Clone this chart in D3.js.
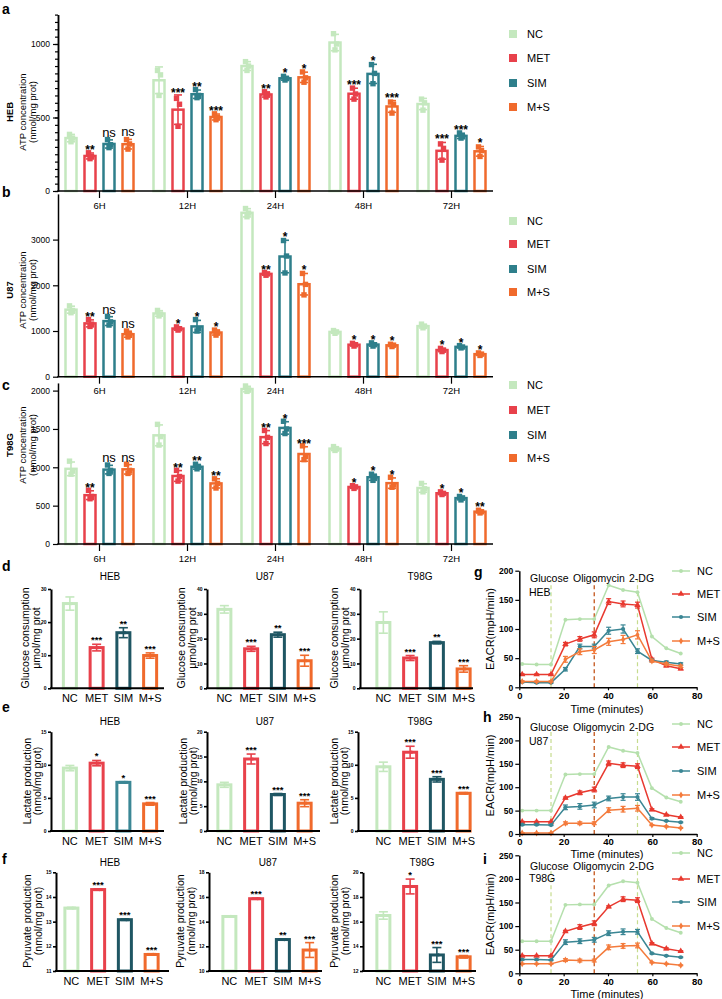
<!DOCTYPE html>
<html><head><meta charset="utf-8">
<script src="https://cdn.jsdelivr.net/npm/d3@7"></script>
<style>body{margin:0;background:#fff}svg{display:block}</style>
</head><body><svg id="c" width="722" height="999"></svg>
<script>
// ---------------- DATA ----------------
const groups = ["6H","12H","24H","48H","72H"];
const series = ["NC","MET","SIM","M+S"];
const cells = ["HEB","U87","T98G"];

// ATP concentration, replicate points [group][series][replicate]
const atpHEB = [
 [[385,360,335],[260,235,220],[350,315,295],[350,320,285]],
 [[820,790,650],[630,590,440],[690,650,635],[525,500,485]],
 [[880,850,820],[675,655,640],[780,765,755],[810,770,740]],
 [[1070,1000,960],[700,660,625],[860,800,730],[605,590,530]],
 [[625,600,550],[320,290,210],[395,370,360],[300,275,235]]
];
const sigHEB = [["","**","ns","ns"],["","***","**","***"],["","**","*","*"],["","***","*","***"],["","***","***","*"]];
const atpU87 = [
 [[1550,1450,1400],[1250,1150,1100],[1320,1200,1130],[1000,920,870]],
 [[1450,1370,1330],[1090,1050,1020],[1250,1050,1000],[1020,970,910]],
 [[3680,3580,3500],[2280,2250,2220],[2980,2640,2270],[2260,2020,1790]],
 [[1010,980,950],[730,700,670],[740,700,670],[710,690,660]],
 [[1150,1100,1070],[620,580,550],[680,650,630],[520,495,465]]
];
const sigU87 = [["","**","ns","ns"],["","*","*","*"],["","**","*","*"],["","*","*","*"],["","*","*","*"]];
const atpT98G = [
 [[1080,950,910],[700,620,590],[1030,960,920],[1040,960,920]],
 [[1560,1400,1290],[960,880,820],[1040,1000,980],[850,790,730]],
 [[2060,2010,1990],[1480,1390,1310],[1600,1500,1440],[1280,1140,1100]],
 [[1270,1240,1220],[760,745,725],[910,870,830],[870,770,740]],
 [[790,720,680],[680,660,645],[620,600,575],[440,420,405]]
];
const sigT98G = [["","**","ns","ns"],["","**","**","**"],["","**","*","***"],["","*","*","*"],["","*","*","**"]];
const atpTicksA = [0,500,1000];
const atpTicksB = [0,1000,2000,3000];
const atpTicksC = [0,500,1000,1500,2000];

// Glucose / lactate / pyruvate [cell][series]
const glucoseMean = [[25.6,12.3,16.8,9.9],[31.8,15.9,21.6,11.1],[26.5,12.2,18.4,7.8]];
const glucoseErr  = [[2,1,1.5,0.8],[1.5,1,1,2.2],[4.3,1,0.5,1.3]];
const glucoseSig  = [["","***","**","***"],["","***","**","***"],["","***","**","***"]];
const glucoseTicks = [[0,10,20,30],[0,10,20,30,40],[0,10,20,30,40]];
const lactateMean = [[9.5,10.25,7.35,4.1],[9.3,14.5,7.35,5.6],[9.7,11.9,7.8,5.7]];
const lactateErr  = [[0.4,0.4,0.1,0.2],[0.5,1,0.2,0.7],[0.7,0.9,0.4,0.1]];
const lactateSig  = [["","*","*","***"],["","***","***","***"],["","***","***","***"]];
const lactateTicks = [[0,5,10,15],[0,5,10,15,20],[0,5,10,15]];
const pyruvateMean = [[13.55,14.3,13.08,11.67],[14.42,15.86,12.55,11.7],[16.5,18.85,13.3,13.15]];
const pyruvateErr  = [[0.03,0.03,0.03,0.03],[0.03,0.05,0.05,0.6],[0.3,0.6,0.6,0.1]];
const pyruvateSig  = [["","***","***","***"],["","***","**","***"],["","*","***","***"]];
const pyruvateTicks = [[11,12,13,14,15],[10,12,14,16,18],[12,14,16,18,20]];

// ECAR time course [series][timepoint]
const times = [1.3,7.8,14.3,20.8,27.3,33.8,40.3,46.8,53.3,59.8,66.3,72.8];
const injections = [14.3,33.8,53.3];
const injectionNames = ["Glucose","Oligomycin","2-DG"];
const timeTicks = [0,20,40,60,80];
const ecarTicksG = [0,50,100,150,200];
const ecarTicksHI = [0,50,100,150,200,250];
const ecarHEB = [
 [40,39,39,116,117,117,175,167,163,87,67,58],
 [22,22,22,74,83,90,147,143,141,48,37,32],
 [9,8,8,31,70,70,97,100,62,46,43,40],
 [10,10,10,48,61,64,78,82,90,45,40,36]];
const ecarHEBErr = [
 [0,0,0,0,0,0,0,0,0,0,0,0],
 [1,1,1,3,4,5,5,5,5,2,2,2],
 [1,1,1,3,4,4,6,7,4,2,2,2],
 [1,1,1,5,5,6,6,7,7,2,2,2]];
const ecarU87 = [
 [50,50,50,127,128,128,186,178,173,98,78,69],
 [26,26,26,77,88,95,151,147,145,52,41,36],
 [20,20,19,57,59,62,76,79,79,33,28,25],
 [2,2,2,23,23,23,51,53,55,19,16,13]];
const ecarU87Err = [
 [0,0,0,0,0,0,0,0,0,0,0,0],
 [1,1,1,2,4,5,5,5,5,2,1,1],
 [1,1,1,5,6,6,5,7,7,2,1,1],
 [1,1,1,3,3,3,5,6,6,1,1,1]];
const ecarT98G = [
 [68,68,68,145,146,146,186,195,192,115,96,86],
 [37,37,37,89,98,106,141,157,155,63,52,47],
 [29,29,28,66,68,71,85,88,88,42,37,34],
 [20,20,20,28,27,27,55,58,59,23,20,17]];
const ecarT98GErr = [
 [0,0,0,0,0,0,0,0,0,0,0,0],
 [1,1,1,2,5,5,2,5,5,2,2,1],
 [1,1,1,5,5,5,5,6,5,1,1,1],
 [1,1,1,3,3,3,5,5,5,1,1,1]];

// ---------------- STYLE ----------------
const FONT = '"Liberation Sans", Arial, sans-serif';
const C_NC = "#c4e8be", C_MET = "#e8414b", C_SIM = "#2e7f8b", C_MS = "#f06a2c", C_SIMD = "#1f5663";
const atpColors = [C_NC, C_MET, C_SIM, C_MS];
const lineColors = ["#b5e0ad", "#e8392f", "#3a8694", "#f47b3c"];

const svg = d3.select("#c").attr("font-family", FONT);
svg.append("rect").attr("width",722).attr("height",999).attr("fill","#fff");

function txt(t, x, y, o = {}) {
  const e = svg.append("text").attr("x", x).attr("y", y).text(t)
    .attr("font-size", o.fs || 10).attr("font-family", FONT)
    .attr("font-weight", o.bold ? "bold" : "normal")
    .attr("text-anchor", o.anchor || "start").attr("fill", o.fill || "#000");
  if (o.rot) e.attr("transform", `rotate(-90,${x},${y})`);
  return e;
}
function styleAxis(sel, sw, fs, bold) {
  sel.attr("font-family", FONT);
  sel.select(".domain").attr("stroke", "#000").attr("stroke-width", sw);
  sel.selectAll(".tick line").attr("stroke", "#000").attr("stroke-width", sw * 0.8);
  sel.selectAll(".tick text").attr("font-size", fs).attr("font-family", FONT)
     .attr("font-weight", bold ? "bold" : "normal").attr("fill", "#000");
}

// panel letters
[["a",2,14,],["b",2,197],["c",2,390],["d",2,571],["e",2,712],["f",2,864],["g",474,577],["h",483,722],["i",483,864]]
  .forEach(([l,x,y]) => txt(l, x, y, {fs: 14, bold: true}));

// ---------------- ATP PANELS (a,b,c) ----------------
function atpPanel(o) {
  const g = svg.append("g");
  const y = d3.scaleLinear().domain([0, o.max]).range([o.y0, o.y0 - o.max * o.k]);
  const xg = d3.scaleBand().domain(groups).range([55.5, 495.5]);
  const xs = d3.scaleBand().domain(series).range([6, 82]);
  const cx = (gi, si) => xg(groups[gi]) + xs(series[si]) + xs.bandwidth() / 2;
  const jit = [-1.5, 1.5, 0];
  o.data.forEach((grp, gi) => grp.forEach((pts, si) => {
    const c = cx(gi, si), m = d3.mean(pts), sd = d3.deviation(pts), col = atpColors[si];
    g.append("rect").attr("x", c - 5.5).attr("y", y(m)).attr("width", 11).attr("height", o.y0 - y(m))
      .attr("fill", "#fff").attr("stroke", col).attr("stroke-width", 2.5);
    g.append("line").attr("x1", c).attr("x2", c).attr("y1", y(m - sd)).attr("y2", y(m + sd))
      .attr("stroke", col).attr("stroke-width", 1.6);
    [m - sd, m + sd].forEach(v => g.append("line").attr("x1", c - 4).attr("x2", c + 4)
      .attr("y1", y(v)).attr("y2", y(v)).attr("stroke", col).attr("stroke-width", 1.6));
    pts.forEach((v, k) => g.append("rect").attr("x", c + jit[k] - 2.7).attr("y", y(v) - 2.7)
      .attr("width", 5.4).attr("height", 5.4).attr("fill", col));
    const s = o.sig[gi][si];
    const top = Math.max(y(m + sd), y(d3.max(pts)) - 2.5);
    if (s === "ns") txt(s, c, top - 3, {fs: 13, anchor: "middle"});
    else if (s) txt(s, c, top + 1, {fs: 12, bold: true, anchor: "middle"});
  }));
  if (o.minor) {
    const mi = g.append("g").attr("transform", "translate(58,0)")
      .call(d3.axisLeft(y).tickValues(d3.range(0, o.max + 0.1, o.minor)).tickSize(3).tickSizeOuter(0).tickFormat(""));
    styleAxis(mi, 1.5, 8, false);
  }
  const ya = g.append("g").attr("transform", "translate(58,0)")
    .call(d3.axisLeft(y).tickValues(o.ticks).tickSize(5).tickSizeOuter(0).tickFormat(d3.format("d")));
  styleAxis(ya, 1.5, 8.5, false);
  const xa = g.append("g").attr("transform", `translate(0,${o.y0})`)
    .call(d3.axisBottom(xg).tickSize(7).tickSizeOuter(0).tickPadding(4));
  styleAxis(xa, 1.5, 9.5, false);
  xa.select(".domain").remove();
  g.append("line").attr("x1", 57.25).attr("x2", 493).attr("y1", o.y0).attr("y2", o.y0)
    .attr("stroke", "#000").attr("stroke-width", 1.6);
  // titles
  txt(o.name, 13, o.labelY, {fs: 9.5, bold: true, anchor: "middle", rot: true});
  txt("ATP concentration", 25.5, o.labelY, {fs: 9.5, anchor: "middle", rot: true});
  txt("(nmol/mg prot)", 36, o.labelY, {fs: 9.5, anchor: "middle", rot: true});
  // legend
  series.forEach((s, si) => {
    g.append("rect").attr("x", 509).attr("y", o.legendY[si] - 4).attr("width", 8).attr("height", 8).attr("fill", atpColors[si]);
    txt(s, 527, o.legendY[si] + 4, {fs: 11});
  });
}
atpPanel({data: atpHEB, sig: sigHEB, name: "HEB", y0: 191, k: 0.147, max: 1200, ticks: atpTicksA, minor: 50,
  legendY: [34, 58, 83, 107], labelY: 112});
atpPanel({data: atpU87, sig: sigU87, name: "U87", y0: 376.7, k: 0.0457, max: 4000, ticks: atpTicksB, minor: 0,
  legendY: [221, 244, 269, 292], labelY: 290});
atpPanel({data: atpT98G, sig: sigT98G, name: "T98G", y0: 544, k: 0.0767, max: 2100, ticks: atpTicksC, minor: 0,
  legendY: [385, 410, 435, 458], labelY: 445});

// ---------------- SMALL BAR ROWS (d,e,f) ----------------
function smallRow(o) {
  cells.forEach((cell, ci) => {
    const ax = o.axisX[ci];
    const dom = [o.ticks[ci][0], o.ticks[ci][o.ticks[ci].length - 1]];
    const y = d3.scaleLinear().domain(dom).range([o.y0, o.yTop]);
    const xb = d3.scaleBand().domain(series).range([o.barStart[ci], o.barStart[ci] + 107]);
    const g = svg.append("g");
    o.means[ci].forEach((m, si) => {
      const c = xb(series[si]) + xb.bandwidth() / 2, e = o.errs[ci][si], col = o.colors[ci][si];
      g.append("rect").attr("x", c - 6.5).attr("y", y(m)).attr("width", 13).attr("height", o.y0 - y(m))
        .attr("fill", "#fff").attr("stroke", col).attr("stroke-width", 3);
      g.append("line").attr("x1", c).attr("x2", c).attr("y1", y(m - e)).attr("y2", y(m + e))
        .attr("stroke", col).attr("stroke-width", 1.6);
      [m - e, m + e].forEach(v => g.append("line").attr("x1", c - 4.5).attr("x2", c + 4.5)
        .attr("y1", y(v)).attr("y2", y(v)).attr("stroke", col).attr("stroke-width", 1.6));
      g.append("circle").attr("cx", c + 1.5).attr("cy", y(m)).attr("r", 1.6).attr("fill", col);
      const s = o.sig[ci][si];
      if (s) txt(s, c, y(m + e) - 1, {fs: 9.5, bold: true, anchor: "middle"});
      txt(series[si], c, o.y0 + 14, {fs: 11, anchor: "middle"});
    });
    const ya = g.append("g").attr("transform", `translate(${ax},0)`)
      .call(d3.axisLeft(y).tickValues(o.ticks[ci]).tickSize(3).tickSizeOuter(0).tickPadding(1.5).tickFormat(d3.format("d")));
    styleAxis(ya, 2, 5, true);
    g.append("line").attr("x1", ax - 1).attr("x2", ax + 113).attr("y1", o.y0).attr("y2", o.y0)
      .attr("stroke", "#000").attr("stroke-width", 2);
    txt(o.title1, ax + o.lab1, o.labelY, {fs: 10.5, anchor: "middle", rot: true});
    txt(o.title2, ax + o.lab2, o.labelY, {fs: 10.5, anchor: "middle", rot: true});
    txt(cell, o.titleX[ci], o.titleY, {fs: 10, anchor: "middle"});
  });
}
smallRow({means: glucoseMean, errs: glucoseErr, sig: glucoseSig, ticks: glucoseTicks,
  colors: [[C_NC, C_MET, C_SIMD, C_MS], [C_NC, C_MET, C_SIMD, C_MS], [C_NC, C_MET, C_SIMD, C_MS]],
  axisX: [51, 207, 360], barStart: [56.5, 211, 370], y0: 688.3, yTop: 589,
  title1: "Glucose consumption", title2: "μmol/mg prot", lab1: -22, lab2: -11, labelY: 638,
  titleX: [110, 265, 420], titleY: 580});
smallRow({means: lactateMean, errs: lactateErr, sig: lactateSig, ticks: lactateTicks,
  colors: [[C_NC, C_MET, "#3b8795", C_MS], [C_NC, C_MET, C_SIMD, C_MS], [C_NC, C_MET, C_SIMD, C_MS]],
  axisX: [51, 207, 358], barStart: [56.5, 211, 370], y0: 831, yTop: 731.7,
  title1: "Lactate production", title2: "(nmol/mg prot)", lab1: -20.5, lab2: -10, labelY: 781,
  titleX: [110, 265, 420], titleY: 725});
smallRow({means: pyruvateMean, errs: pyruvateErr, sig: pyruvateSig, ticks: pyruvateTicks,
  colors: [[C_NC, C_MET, C_SIMD, C_MS], [C_NC, C_MET, C_SIMD, C_MS], [C_NC, C_MET, C_SIMD, C_MS]],
  axisX: [56, 209, 363], barStart: [58, 216, 370], y0: 971, yTop: 872.3,
  title1: "Pyruvate production", title2: "(nmol/mg prot)", lab1: -25.5, lab2: -14, labelY: 921,
  titleX: [110, 268, 422], titleY: 866});

// ---------------- ECAR PANELS (g,h,i) ----------------
const symbols = [d3.symbolCircle, d3.symbolTriangle, d3.symbolCircle, d3.symbolDiamond];
const symSize = [12, 18, 14, 14];
function ecarPanel(o) {
  const g = svg.append("g");
  const x = d3.scaleLinear().domain([0, 80]).range([519.3, 696.7]);
  const max = o.ticks[o.ticks.length - 1];
  const y = d3.scaleLinear().domain([0, max]).range([o.y0, o.yTop]);
  injections.forEach((t, i) => g.append("line").attr("x1", x(t)).attr("x2", x(t))
    .attr("y1", o.y0).attr("y2", o.lineTop)
    .attr("stroke", i === 1 ? "#c8612a" : "#c6dc8e").attr("stroke-width", i === 1 ? 1.4 : 1.2)
    .attr("stroke-dasharray", "4,3"));
  [530, 573, 629].forEach((xx, i) => txt(injectionNames[i], xx, o.annY, {fs: 10.5}));
  txt(o.name, 529, o.nameY, {fs: 10.5});
  o.data.forEach((vals, si) => {
    const col = lineColors[si];
    g.append("path").attr("d", d3.line()(times.map((t, k) => [x(t), y(vals[k])])))
      .attr("fill", "none").attr("stroke", col).attr("stroke-width", 1.5);
    vals.forEach((v, k) => {
      const e = o.err[si][k], px = x(times[k]);
      if (e > 0) {
        g.append("line").attr("x1", px).attr("x2", px).attr("y1", y(v - e)).attr("y2", y(v + e)).attr("stroke", col).attr("stroke-width", 1.2);
        [v - e, v + e].forEach(w => g.append("line").attr("x1", px - 2.5).attr("x2", px + 2.5)
          .attr("y1", y(w)).attr("y2", y(w)).attr("stroke", col).attr("stroke-width", 1.2));
      }
      g.append("path").attr("d", d3.symbol(symbols[si], symSize[si])()).attr("fill", col)
        .attr("transform", `translate(${px},${y(v)})`);
    });
  });
  const ya = g.append("g").attr("transform", "translate(519.3,0)")
    .call(d3.axisLeft(y).tickValues(o.ticks).tickSize(4).tickSizeOuter(0).tickPadding(2));
  styleAxis(ya, 1.5, 8.5, true);
  const xa = g.append("g").attr("transform", `translate(0,${o.y0})`)
    .call(d3.axisBottom(x).tickValues(timeTicks).tickSize(3).tickSizeOuter(0).tickPadding(1.5));
  styleAxis(xa, 1.5, 9.5, true);
  txt("EACR(mpH/min)", 494, (o.y0 + o.yTop) / 2, {fs: 11, anchor: "middle", rot: true});
  txt("Time (minutes)", 607, o.timeY, {fs: 11, anchor: "middle"});
  series.forEach((s, si) => {
    const ly = o.legendY[si], col = lineColors[si];
    g.append("line").attr("x1", 672).attr("x2", 690).attr("y1", ly).attr("y2", ly).attr("stroke", col).attr("stroke-width", 1.5);
    g.append("path").attr("d", d3.symbol(symbols[si], symSize[si])()).attr("fill", col).attr("transform", `translate(681,${ly})`);
    txt(s, 697, ly + 4, {fs: 11});
  });
}
ecarPanel({data: ecarHEB, err: ecarHEBErr, ticks: ecarTicksG, y0: 687.3, yTop: 570.7, lineTop: 580,
  annY: 582, name: "HEB", nameY: 596, timeY: 713, legendY: [571, 594, 617, 641]});
ecarPanel({data: ecarU87, err: ecarU87Err, ticks: ecarTicksHI, y0: 834, yTop: 717, lineTop: 731,
  annY: 731, name: "U87", nameY: 745, timeY: 857.5, legendY: [724, 747, 771, 795]});
ecarPanel({data: ecarT98G, err: ecarT98GErr, ticks: ecarTicksHI, y0: 973.3, yTop: 855.3, lineTop: 869,
  annY: 869.5, name: "T98G", nameY: 882, timeY: 997.5, legendY: [853, 879, 902, 926]});
</script>
</body></html>
